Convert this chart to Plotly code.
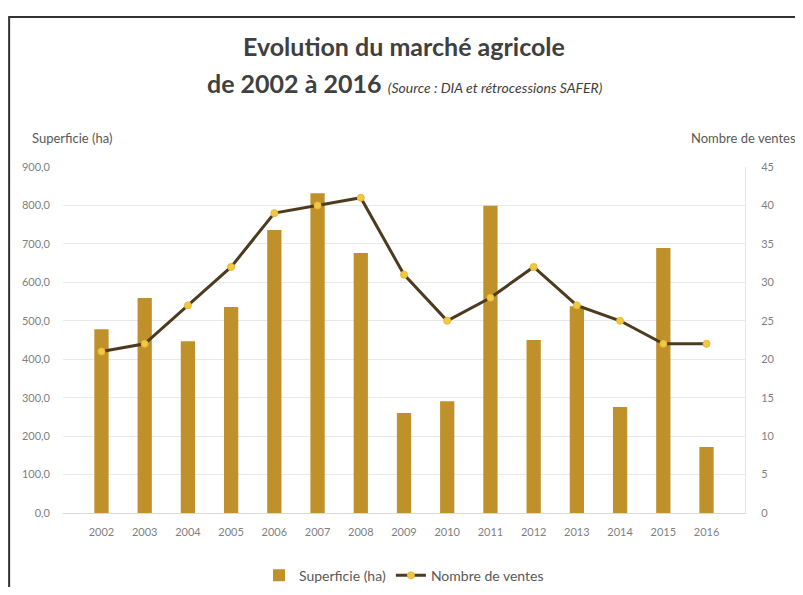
import plotly.graph_objects as go

YEARS = [str(y) for y in range(2002, 2017)]
SUPERFICIE = [478, 559, 447, 536, 736, 832, 676, 260, 291, 799, 450, 538, 276, 689, 172]
VENTES = [21, 22, 27, 32, 39, 40, 41, 31, 25, 28, 32, 27, 25, 22, 22]

BAR_COLOR = "#C0902A"
LINE_COLOR = "#4D3B1F"
MARKER_COLOR = "#F2C744"
TEXT_COLOR = "#595959"
TICK_COLOR = "#7F7F7F"
FONT = "Lato, Open Sans, sans-serif"

fig = go.Figure()
fig.add_trace(go.Bar(
    x=YEARS, y=SUPERFICIE, name="Superficie (ha)",
    marker=dict(color=BAR_COLOR, line=dict(width=0)),
))
fig.add_trace(go.Scatter(
    x=YEARS, y=VENTES, name="Nombre de ventes", yaxis="y2",
    mode="lines+markers",
    line=dict(color=LINE_COLOR, width=3),
    marker=dict(symbol="circle", size=7, color=MARKER_COLOR, line=dict(color="#E8B830", width=1)),
))

# the page body adds an 8px margin, so the figure is 16px smaller than the window
fig.update_layout(
    width=787, height=579,
    margin=dict(l=55, r=50, t=159, b=74, autoexpand=False),
    paper_bgcolor="white", plot_bgcolor="white",
    separators=", ",
    font=dict(family=FONT, color=TEXT_COLOR, size=11),
    bargap=0.67,
    showlegend=True,
    legend=dict(orientation="h", x=0.5, xanchor="center", y=-0.135, yanchor="top",
                font=dict(size=14, color=TEXT_COLOR), traceorder="normal"),
    xaxis=dict(type="category", showgrid=False, showline=True, linecolor="#D9D9D9",
               ticks="", ticklabelstandoff=9, tickfont=dict(size=11, color=TICK_COLOR)),
    yaxis=dict(range=[0, 900], dtick=100, tickformat=".1f", showgrid=True,
               gridcolor="#E9E9E9", zeroline=False, ticklabelstandoff=12,
               tickfont=dict(size=11, color=TICK_COLOR)),
    yaxis2=dict(range=[0, 45], dtick=5, overlaying="y", side="right", showgrid=False,
                zeroline=False, showline=True, linecolor="#E6E6E6", ticklabelstandoff=13,
                tickfont=dict(size=11, color=TICK_COLOR)),
)

fig.add_annotation(text="<b>Evolution du marché agricole</b>", xref="paper", yref="paper",
                   x=0.5, y=1.35, xanchor="center", yanchor="middle", showarrow=False,
                   font=dict(size=25, color="#404040", family=FONT))
fig.add_annotation(text="<b>de 2002 à 2016</b> <span style='font-size:14px'><i>(Source : DIA et rétrocessions SAFER)</i></span>",
                   xref="paper", yref="paper", x=0.502, y=1.243, xanchor="center", yanchor="middle",
                   showarrow=False, font=dict(size=25, color="#404040", family=FONT))
fig.add_annotation(text="Superficie (ha)", xref="paper", yref="paper", x=-0.048, y=1.083,
                   xanchor="left", yanchor="middle", showarrow=False,
                   font=dict(size=13, color=TEXT_COLOR))
fig.add_annotation(text="Nombre de ventes", xref="paper", yref="paper", x=0.918, y=1.083,
                   xanchor="left", yanchor="middle", showarrow=False,
                   font=dict(size=13, color=TEXT_COLOR))

# outer frame of the original picture
fig.add_shape(type="rect", xref="paper", yref="paper", x0=-0.079, x1=1.2, y0=-0.3, y1=1.4335,
              line=dict(color="#333333", width=2), layer="below")

fig.write_html("out.html")
